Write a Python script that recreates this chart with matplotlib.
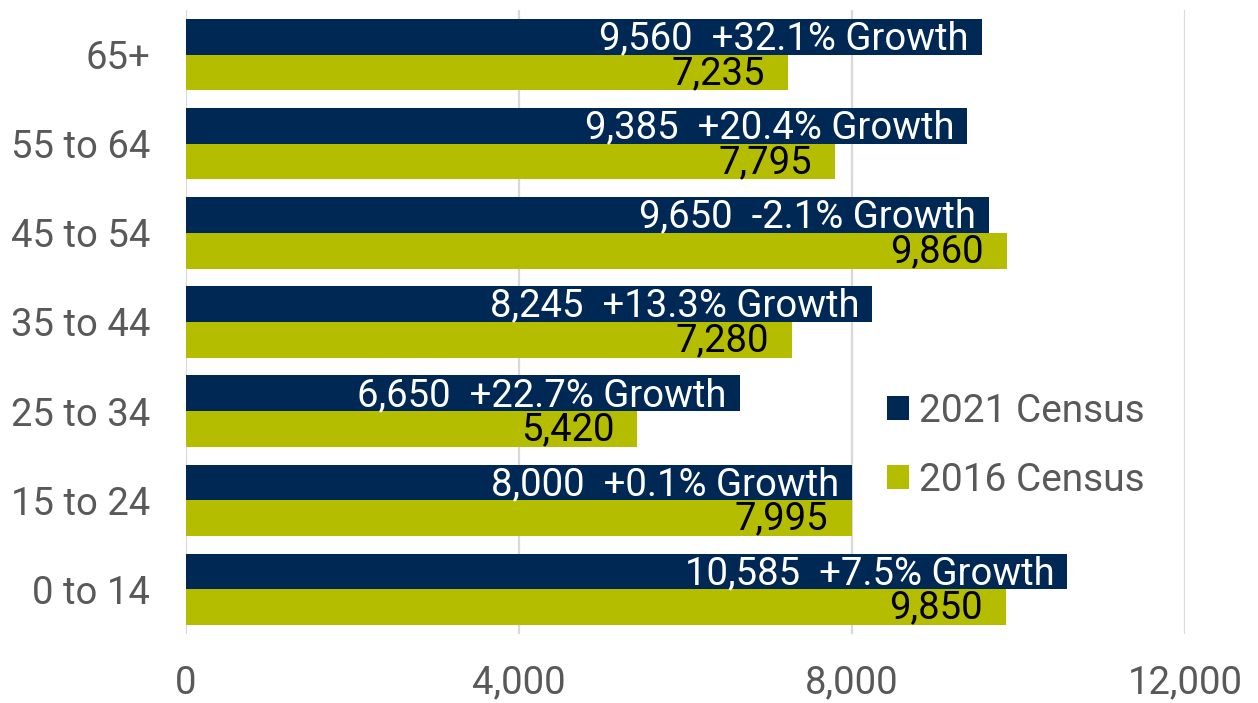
import matplotlib
matplotlib.use("Agg")
import matplotlib.pyplot as plt
import numpy as np

# Data (top-to-bottom order as displayed)
categories = ["65+", "55 to 64", "45 to 54", "35 to 44", "25 to 34", "15 to 24", "0 to 14"]
census_2021 = [9560, 9385, 9650, 8245, 6650, 8000, 10585]
census_2016 = [7235, 7795, 9860, 7280, 5420, 7995, 9850]
growth_labels = ["+32.1%", "+20.4%", "-2.1%", "+13.3%", "+22.7%", "+0.1%", "+7.5%"]
xticks = [0, 4000, 8000, 12000]
series_names = ["2021 Census", "2016 Census"]

NAVY = "#002855"
OLIVE = "#b5bd00"
GRID = "#d9d9d9"
TICK = "#595959"

plt.rcParams['font.family'] = ['Roboto', 'DejaVu Sans']

fig = plt.figure(figsize=(12.58, 7.03), dpi=100)
ax = fig.add_axes([186/1258, 1 - 634/703, (1185-186)/1258, 624/703])

n = len(categories)
ypos = np.arange(n)[::-1]  # top category at highest y
h = 0.4

b1 = ax.barh(ypos + h/2, census_2021, height=h, color=NAVY, zorder=3, label=series_names[0])
b2 = ax.barh(ypos - h/2, census_2016, height=h, color=OLIVE, zorder=3, label=series_names[1])

fs = 27.5
for y, v, g in zip(ypos, census_2021, growth_labels):
    ax.annotate(f"{v:,}  {g} Growth", xy=(v, y + h/2), xytext=(-13, -2),
                textcoords="offset pixels", ha="right", va="center",
                color="white", fontsize=fs, zorder=4)
for y, v in zip(ypos, census_2016):
    ax.annotate(f"{v:,}", xy=(v, y - h/2), xytext=(-23, -1),
                textcoords="offset pixels", ha="right", va="center",
                color="black", fontsize=fs, zorder=4)

ax.set_xlim(0, 12000)
ax.set_ylim(-0.5, n - 0.5)
ax.set_xticks(xticks)
ax.set_xticklabels([f"{t:,}" for t in xticks])
ax.set_yticks(ypos)
ax.set_yticklabels(categories)
ax.tick_params(axis="both", length=0, labelsize=27.5, labelcolor=TICK)
ax.tick_params(axis="y", pad=26)
ax.tick_params(axis="x", pad=22)
for s in ax.spines.values():
    s.set_visible(False)
ax.grid(axis="x", color=GRID, linewidth=1.6, zorder=0)
ax.set_axisbelow(True)

leg = ax.legend(loc="upper left", bbox_to_anchor=((887-186)/999, (634-393)/624),
                frameon=False, fontsize=28, handlelength=0.57, handleheight=0.57,
                handletextpad=0.26, labelspacing=0.82, borderaxespad=0, borderpad=0)
for t in leg.get_texts():
    t.set_color(TICK)

fig.savefig("out.png", dpi=100)
